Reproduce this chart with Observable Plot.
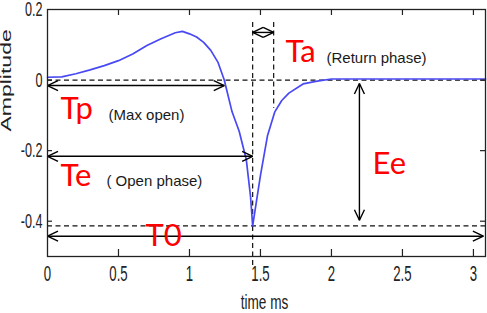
<!DOCTYPE html>
<html>
<head>
<meta charset="utf-8">
<script src="https://cdn.jsdelivr.net/npm/d3@7"></script>
<script src="https://cdn.jsdelivr.net/npm/@observablehq/plot@0.6"></script>
<style>
  html, body { margin: 0; padding: 0; background: #fff; }
  svg { display: block; }
</style>
</head>
<body>
<div id="chart"></div>
<script>
// Glottal flow derivative over one period (time in ms, amplitude)
const time = [0, 0.1, 0.2, 0.3, 0.4, 0.5, 0.6, 0.7, 0.8, 0.9, 0.95, 1.0, 1.05, 1.1, 1.15, 1.2, 1.245,
  1.3, 1.35, 1.4, 1.43, 1.445, 1.5, 1.55, 1.6, 1.65, 1.7, 1.8, 1.9, 2.0, 2.5, 3.085];
const amplitude = [0.008, 0.009, 0.018, 0.029, 0.041, 0.055, 0.074, 0.098, 0.117, 0.134, 0.138, 0.131, 0.122,
  0.107, 0.084, 0.051, 0, -0.09, -0.145, -0.225, -0.33, -0.413, -0.27, -0.157, -0.091, -0.058, -0.037,
  -0.011, -0.003, 0.003, 0.003, 0.003];

// Timing parameters (ms) and excitation amplitude
const tp = 1.245;   // maximum opening
const te = 1.445;   // end of open phase
const ta = 0.148;   // return phase
const t0 = 3.07;    // period
const ee = -0.413;  // negative peak

const paramNames = ["Tp", "Te", "T0", "Ta", "Ee"];
const phaseNames = ["(Max open)", "( Open phase)", "(Return phase)"];
const xTicks = [0, 0.5, 1, 1.5, 2, 2.5, 3];
const yTicks = [0.2, 0, -0.2, -0.4];
const xLabel = "time ms";
const yLabel = "Amplitude";

// Layout
const W = 487, H = 313;
const mL = 47, mR = 2, mT = 9, mB = 57;
const xMin = 0, xMax = 3.085, yMin = -0.5, yMax = 0.2;
const kx = (W - mL - mR) / (xMax - xMin);   // px per ms
const ky = (H - mT - mB) / (yMax - yMin);   // px per amplitude unit

const wave = time.map((t, i) => ({t, a: amplitude[i]}));

// Double-headed dimension arrows
const spans = [
  {x1: 0, x2: tp, y1: -0.0155, y2: -0.0155},
  {x1: 0, x2: te, y1: -0.216, y2: -0.216},
  {x1: 0, x2: t0, y1: -0.4425, y2: -0.4425},
  {x1: te, x2: te + ta, y1: 0.135, y2: 0.135},
  {x1: 2.197, x2: 2.197, y1: 0 - 3.5 / ky, y2: ee + 5.5 / ky}
];

const paramAt = [[0.0915, -0.109], [0.0915, -0.299], [0.69, -0.469], [1.676, 0.05], [2.289, -0.265]];
const phaseAt = [[0.43, -0.112], [0.415, -0.3], [1.965, 0.047]];

// Open chevron arrowhead
function openHead(color) {
  const ns = "http://www.w3.org/2000/svg";
  const m = document.createElementNS(ns, "marker");
  m.setAttribute("viewBox", "-12 -7 14 14");
  m.setAttribute("markerWidth", 14);
  m.setAttribute("markerHeight", 14);
  m.setAttribute("markerUnits", "userSpaceOnUse");
  m.setAttribute("orient", "auto-start-reverse");
  m.setAttribute("overflow", "visible");
  const p = document.createElementNS(ns, "path");
  p.setAttribute("d", "M-10.5,-5L0,0L-10.5,5");
  p.setAttribute("fill", "none");
  p.setAttribute("stroke", color);
  p.setAttribute("stroke-width", 1.4);
  m.appendChild(p);
  return m;
}

const dash = {stroke: "#111", strokeWidth: 1.2, strokeDasharray: "5,3.5"};
const tickStyle = {stroke: "#222", strokeWidth: 1.2};
const fmt = (d) => String(d);

const chart = Plot.plot({
  width: W,
  height: H,
  marginLeft: mL,
  marginRight: mR,
  marginTop: mT,
  marginBottom: mB,
  x: {domain: [xMin, xMax], label: null},
  y: {domain: [yMin, yMax], label: null},
  style: {fontFamily: "Liberation Sans", background: "#fff", overflow: "visible"},
  marks: [
    // reference levels
    Plot.ruleY([0, ee], {y: (d) => d, x1: xMin, x2: xMax, ...dash}),
    Plot.ruleX([te], {x: (d) => d, y1: 0.163, y2: -0.534, ...dash}),
    Plot.ruleX([te + ta], {x: (d) => d, y1: 0.163, y2: -0.08, ...dash}),
    // waveform
    Plot.line(wave, {x: "t", y: "a", stroke: "#4848f4", strokeWidth: 1.7}),
    // dimension arrows
    Plot.link(spans, {x1: "x1", y1: "y1", x2: "x2", y2: "y2", stroke: "#000", strokeWidth: 1.4,
      markerStart: openHead, markerEnd: openHead}),
    // inward ticks on all four sides
    Plot.ruleX(xTicks.slice(1), {x: (d) => d, y1: yMin, y2: yMin + 7 / ky, ...tickStyle}),
    Plot.ruleX(xTicks.slice(1), {x: (d) => d, y1: yMax, y2: yMax - 6 / ky, ...tickStyle}),
    Plot.ruleY(yTicks.slice(1), {y: (d) => d, x1: xMin, x2: xMin + 5 / kx, ...tickStyle}),
    Plot.ruleY(yTicks.slice(1), {y: (d) => d, x1: xMax, x2: xMax - 5 / kx, ...tickStyle}),
    Plot.frame({stroke: "#222", strokeWidth: 1.3}),
    Plot.axisX(xTicks, {anchor: "bottom", tickSize: 0, tickPadding: 9, fontSize: 22, fill: "#222", tickFormat: fmt, label: null}),
    Plot.axisY(yTicks, {anchor: "left", tickSize: 0, tickPadding: 5, fontSize: 21, fill: "#222", tickFormat: fmt, label: null}),
    Plot.text([xLabel], {frameAnchor: "bottom", dy: 52, dx: -2, lineAnchor: "bottom", fontSize: 20, fill: "#222"}),
    Plot.text([yLabel], {frameAnchor: "left", rotate: -90, dx: -36.5, dy: -1.5, lineAnchor: "bottom", fontSize: 23, fill: "#222"}),
    // annotations
    Plot.text(paramNames, {x: (d, i) => paramAt[i][0], y: (d, i) => paramAt[i][1], text: (d) => d,
      textAnchor: "start", lineAnchor: "bottom", fill: "#f00", fontSize: 31, fontFamily: "Lato"}),
    Plot.text(phaseNames, {x: (d, i) => phaseAt[i][0], y: (d, i) => phaseAt[i][1], text: (d) => d,
      textAnchor: "start", lineAnchor: "bottom", fill: "#1a1a1a", fontSize: 15})
  ]
});

// Narrow the axis typography horizontally, keeping each label anchored
const narrow = new Map([[xLabel, 0.68], [yLabel, 0.6]]);
chart.querySelectorAll("text").forEach((el) => {
  const g = el.closest("g");
  const aria = g ? g.getAttribute("aria-label") || "" : "";
  let k = narrow.get(el.textContent);
  if (aria.includes("tick label")) k = 0.6;
  if (!k) return;
  let tr = el.getAttribute("transform");
  if (!tr) {
    tr = `translate(${el.getAttribute("x") || 0},${el.getAttribute("y") || 0})`;
    el.removeAttribute("x");
    el.removeAttribute("y");
  }
  el.setAttribute("transform", tr + (tr.includes("rotate") ? ` scale(1,${k})` : ` scale(${k},1)`));
});

document.getElementById("chart").appendChild(chart);
</script>
</body>
</html>
